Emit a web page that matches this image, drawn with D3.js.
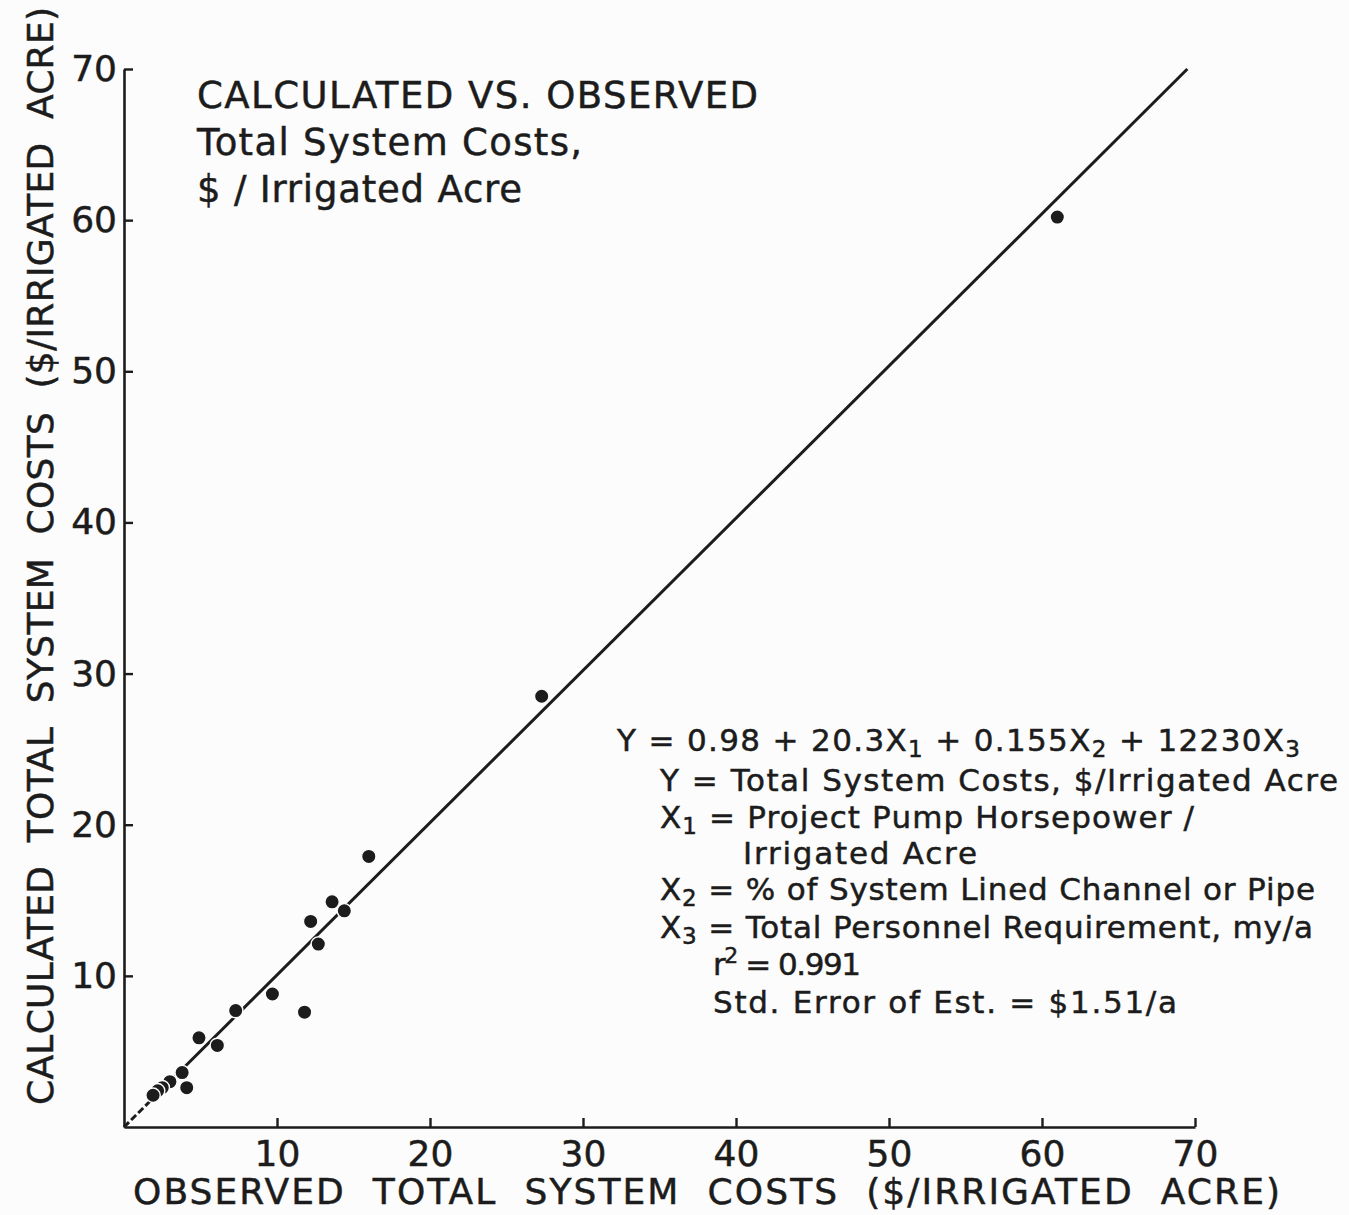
<!DOCTYPE html>
<html>
<head>
<meta charset="utf-8">
<script src="https://cdn.jsdelivr.net/npm/d3@7"></script>
<style>
  body { margin: 0; background: #fcfcfc; }
  svg { display: block; }
  text { font-family: "DejaVu Sans", sans-serif; fill: #1c1c1c; stroke: #1c1c1c; stroke-width: 0.5px; }
</style>
</head>
<body>
<div id="chart"></div>
<script>
// values
var observed   = [61.0, 27.3, 16.0, 13.6, 14.4, 12.2, 12.7, 9.7, 11.8, 7.3, 4.9, 6.1, 3.8, 4.1, 3.0, 2.5, 2.2, 1.9];
var calculated = [60.2, 28.5, 17.9, 14.9, 14.3, 13.6, 12.1, 8.8, 7.6, 7.7, 5.9, 5.4, 3.6, 2.6, 3.0, 2.6, 2.4, 2.1];
var tickValues = [10, 20, 30, 40, 50, 60, 70];
var fitX = [0, 1.7, 69.5];
var fitY = [0, 1.7, 70];

var titleLines = [
	"CALCULATED VS. OBSERVED",
	"Total System Costs,",
	"$ / Irrigated Acre"
];
var xLabel = "OBSERVED  TOTAL  SYSTEM  COSTS  ($/IRRIGATED  ACRE)";
var yLabel = "CALCULATED  TOTAL  SYSTEM  COSTS  ($/IRRIGATED  ACRE)";

var width = 1349,
	height = 1215,
	ink = "#1c1c1c";

var svg = d3.select("#chart").append("svg")
	.attr("width", width)
	.attr("height", height);

var x = d3.scaleLinear().domain([0, 70]).range([124, 1195]);
var y = d3.scaleLinear().domain([0, 70]).range([1127, 69]);

// axes, ticks point inward
var xAxis = svg.append("g")
	.attr("transform", "translate(0," + y(0) + ")")
	.call(d3.axisBottom(x).tickValues(tickValues).tickSizeInner(-9).tickSizeOuter(0).tickPadding(13));

var yAxis = svg.append("g")
	.attr("transform", "translate(" + x(0) + ",0)")
	.call(d3.axisLeft(y).tickValues(tickValues).tickSizeInner(-9).tickSizeOuter(0).tickPadding(7));

[xAxis, yAxis].forEach(function(g) {
	g.select(".domain").attr("stroke", ink).attr("stroke-width", 2.6);
	g.selectAll(".tick line").attr("stroke", ink).attr("stroke-width", 2.4);
	g.selectAll(".tick text")
		.style("font-family", "'DejaVu Sans', sans-serif")
		.style("font-size", "36px")
		.attr("fill", ink);
});

// 1:1 line, dashed close to the origin
var line = d3.line()
	.x(function(d) { return x(d[0]); })
	.y(function(d) { return y(d[1]); });

svg.append("path")
	.datum([[fitX[0], fitY[0]], [fitX[1], fitY[1]]])
	.attr("d", line)
	.attr("fill", "none")
	.attr("stroke", ink)
	.attr("stroke-width", 3)
	.attr("stroke-dasharray", "7,3");

svg.append("path")
	.datum([[fitX[1], fitY[1]], [fitX[2], fitY[2]]])
	.attr("d", line)
	.attr("fill", "none")
	.attr("stroke", ink)
	.attr("stroke-width", 3);

// points
svg.append("g").selectAll("circle")
	.data(observed)
	.join("circle")
	.attr("cx", function(d) { return x(d); })
	.attr("cy", function(d, i) { return y(calculated[i]); })
	.attr("r", 7.2)
	.attr("fill", ink)
	.attr("stroke", "#fcfcfc")
	.attr("stroke-width", 1.4);

// title block
var title = svg.append("g");
var titleY = [108, 155, 202];
var titleW = [561, 385, 325];
titleLines.forEach(function(t, i) {
	title.append("text")
		.attr("x", 197)
		.attr("y", titleY[i])
		.attr("textLength", titleW[i])
		.style("font-size", "37px")
		.text(t);
});

// equation block
var eq = svg.append("g").style("font-size", "31px");

function subText(g, xPos, yPos, parts, len) {
	var t = g.append("text").attr("x", xPos).attr("y", yPos);
	var back = 0;
	parts.forEach(function(p) {
		if (p.sub) {
			t.append("tspan").attr("dy", 6 + back).style("font-size", "23px").text(p.sub);
			back = -6;
		} else if (p.sup) {
			t.append("tspan").attr("dy", -12 + back).style("font-size", "22px").text(p.sup);
			back = 12;
		} else {
			t.append("tspan").attr("dy", back).text(p.t);
			back = 0;
		}
	});
	if (len) t.attr("textLength", len);
	return t;
}

subText(eq, 617, 751, [
	{t: "Y = 0.98 + 20.3X"}, {sub: "1"}, {t: " + 0.155X"}, {sub: "2"}, {t: " + 12230X"}, {sub: "3"}
], 683);
subText(eq, 660, 791, [{t: "Y = Total System Costs, $/Irrigated Acre"}], 678);
subText(eq, 660, 828, [{t: "X"}, {sub: "1"}, {t: " = Project Pump Horsepower /"}], 534);
subText(eq, 743, 864, [{t: "Irrigated Acre"}], 234);
subText(eq, 660, 900, [{t: "X"}, {sub: "2"}, {t: " = % of System Lined Channel or Pipe"}], 655);
subText(eq, 660, 938, [{t: "X"}, {sub: "3"}, {t: " = Total Personnel Requirement, my/a"}], 653);
subText(eq, 713, 975, [{t: "r"}, {sup: "2"}, {t: " = 0.991"}], 148);
subText(eq, 713, 1013, [{t: "Std. Error of Est. = $1.51/a"}], 464);

// axis titles
svg.append("text")
	.attr("x", 133)
	.attr("y", 1204)
	.attr("textLength", 1147)
	.style("font-size", "36px")
	.style("white-space", "pre")
	.text(xLabel);

svg.append("text")
	.attr("transform", "translate(53,1105) rotate(-90)")
	.attr("textLength", 1098)
	.style("font-size", "36px")
	.style("white-space", "pre")
	.text(yLabel);
</script>
</body>
</html>
